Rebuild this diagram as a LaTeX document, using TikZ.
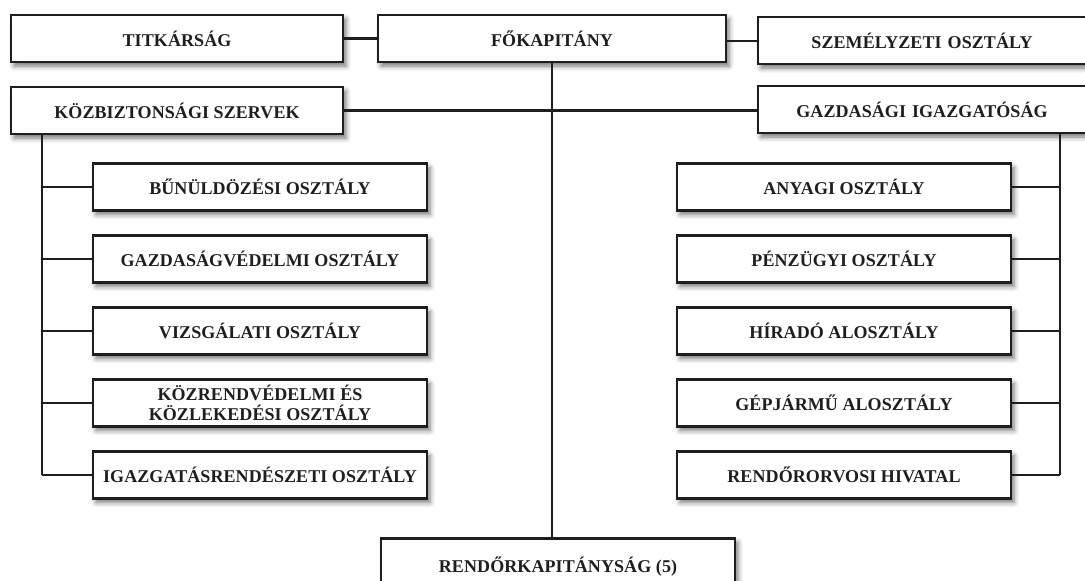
\documentclass[tikz,border=0pt]{standalone}
\usepackage{fontspec}
\setmainfont{Liberation Serif}[LetterSpace=0.5]
\usetikzlibrary{shadows.blur}
\definecolor{ink}{HTML}{1E1E1E}
\tikzset{
  orgbox/.style={draw=ink, line width=2.6pt, fill=white, text=ink,
    font=\bfseries\fontsize{18}{20}\selectfont, align=center,
    minimum height=47pt, inner sep=0pt,
    blur shadow={shadow xshift=3pt, shadow yshift=-4pt,
      shadow blur radius=5pt, shadow opacity=55}},
  link/.style={draw=ink, line width=2.3pt}
}
\begin{document}
\begin{tikzpicture}[x=1pt, y=-1pt]
  \useasboundingbox (0,0) rectangle (1085,581);
  \clip (0,0) rectangle (1085,581);

  % free ends of the two trunks
  \coordinate (ltop) at (42,134);
  \coordinate (lbot) at (42,475);
  \coordinate (rtop) at (1060,133);
  \coordinate (rbot) at (1060,475);

  % top row
  \node[orgbox, minimum width=332pt] (tit) at (177,38.5) {TITKÁRSÁG};
  \node[orgbox, minimum width=348pt] (fok) at (552,38.5) {FŐKAPITÁNY};
  \node[orgbox, minimum width=342pt, text width=320pt] (sze) at (929,40.5) {\hspace*{-14pt}SZEMÉLYZETI OSZTÁLY};

  % second row
  \node[orgbox, minimum width=332pt] (kozb) at (177,110.5) {KÖZBIZTONSÁGI SZERVEK};
  \node[orgbox, minimum width=342pt, text width=320pt] (gazd) at (929,109.5) {\hspace*{-14pt}GAZDASÁGI IGAZGATÓSÁG};

  % bottom
  \node[orgbox, minimum width=354pt, minimum height=70pt, anchor=north] (rk) at (558,537) {\raisebox{17pt}{RENDŐRKAPITÁNYSÁG (5)}};

  % left branch
  \node[orgbox, minimum width=334pt] (l1) at (260,187) {BŰNÜLDÖZÉSI OSZTÁLY};
  \node[orgbox, minimum width=334pt] (l2) at (260,259) {GAZDASÁGVÉDELMI OSZTÁLY};
  \node[orgbox, minimum width=334pt] (l3) at (260,331) {VIZSGÁLATI OSZTÁLY};
  \node[orgbox, minimum width=334pt] (l4) at (260,403) {KÖZRENDVÉDELMI ÉS\\KÖZLEKEDÉSI OSZTÁLY};
  \node[orgbox, minimum width=334pt] (l5) at (260,475) {IGAZGATÁSRENDÉSZETI OSZTÁLY};

  % right branch
  \node[orgbox, minimum width=334pt] (r1) at (844,187) {ANYAGI OSZTÁLY};
  \node[orgbox, minimum width=334pt] (r2) at (844,259) {PÉNZÜGYI OSZTÁLY};
  \node[orgbox, minimum width=334pt] (r3) at (844,331) {HÍRADÓ ALOSZTÁLY};
  \node[orgbox, minimum width=334pt] (r4) at (844,403) {GÉPJÁRMŰ ALOSZTÁLY};
  \node[orgbox, minimum width=334pt] (r5) at (844,475) {RENDŐRORVOSI HIVATAL};

  % connectors
  \draw[link] (tit.east) -- (fok.west);
  \draw[link] (fok.east |- 0,41) -- (sze.west |- 0,41);
  \draw[link] (kozb.east) -- (gazd.west |- kozb.east);
  \draw[link] (fok.south) -- (rk.north -| fok.south);
  \draw[link] (ltop) -- (lbot);
  \draw[link] (rtop) -- (rbot);
  \foreach \n in {l1,l2,l3,l4,l5} \draw[link] (\n.west) -- (ltop |- \n.west);
  \foreach \n in {r1,r2,r3,r4,r5} \draw[link] (\n.east) -- (rtop |- \n.east);
\end{tikzpicture}
\end{document}
